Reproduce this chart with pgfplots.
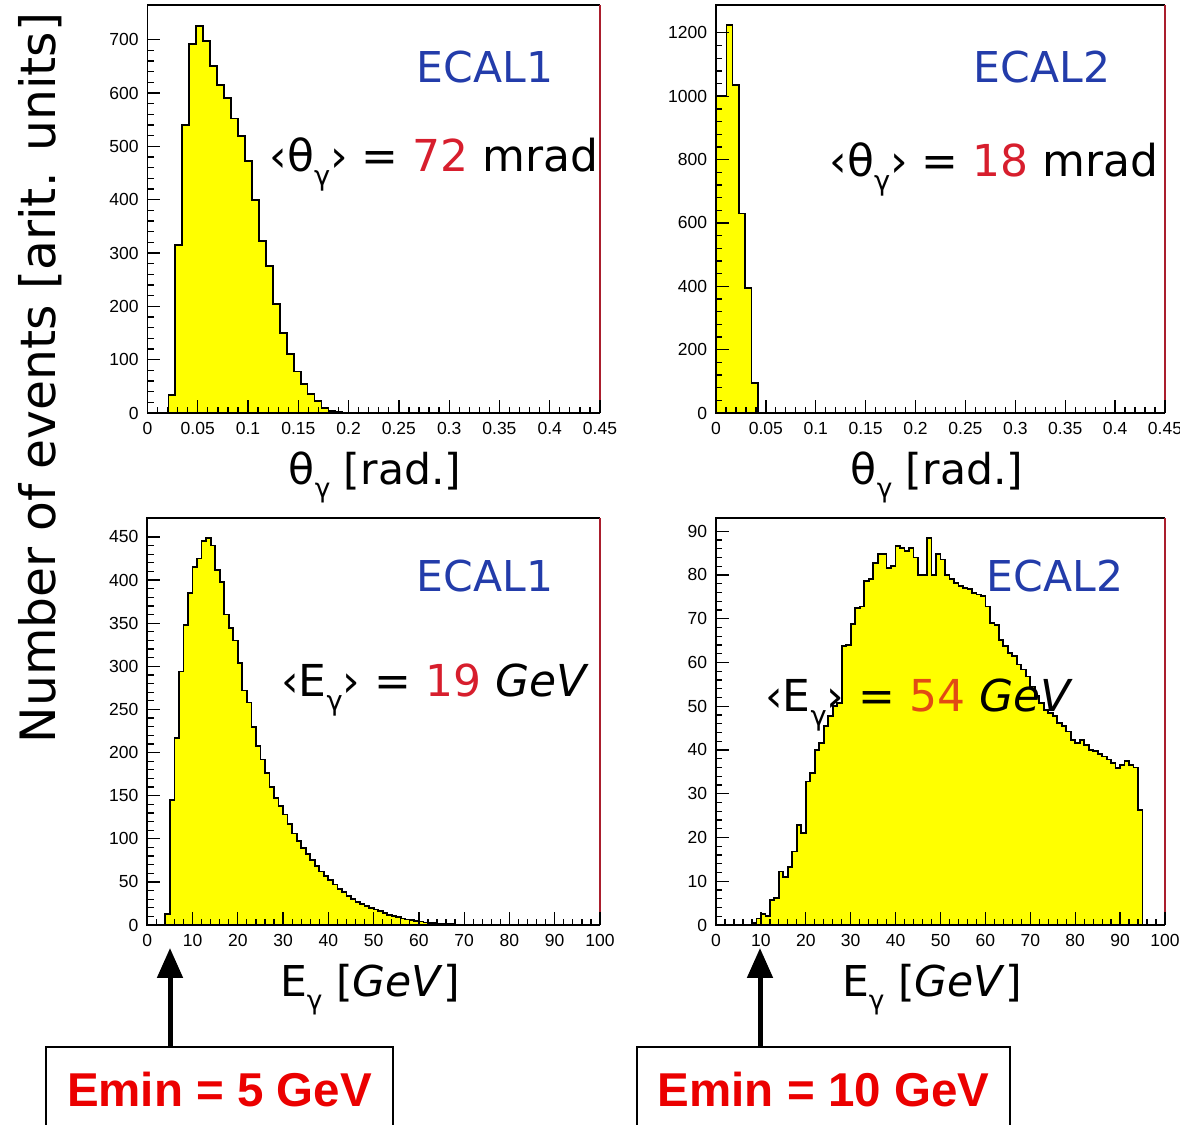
\documentclass[border=0pt]{standalone}
\usepackage{pgfplots}
\pgfplotsset{compat=1.18}
\usepackage{fontspec}
\usepackage{graphicx}
\usetikzlibrary{arrows.meta}
\setmainfont{DejaVu Sans}
\newfontfamily\lib{Liberation Sans}
\definecolor{ecalblue}{RGB}{35,60,170}
\definecolor{meanred}{RGB}{215,30,45}
\definecolor{meanorange}{RGB}{225,75,20}
\definecolor{framered}{RGB}{170,30,45}
\definecolor{hyellow}{RGB}{255,255,0}
\definecolor{eminred}{RGB}{235,0,0}
\newcommand{\sg}{\raisebox{-0.55ex}{\scalebox{0.62}{γ}}}
\newcommand{\bigf}{\fontsize{17}{20}\selectfont}
\newcommand{\meanf}{\fontsize{17.6}{20}\selectfont}
\pgfplotsset{
  rootpanel/.style={
    anchor=south west, scale only axis,
    axis line style={draw=none},
    axis on top,
    tick pos=left,
    tick align=inside,
    major tick length=5pt, minor tick length=2.5pt,
    minor tick num=4,
    tick style={black, line width=0.5pt},
    every tick label/.append style={font=\lib\fontsize{7}{8}\selectfont},
    /pgf/number format/assume math mode=true,
    /pgf/number format/1000 sep={},
    scaled ticks=false,
    xmin=0, ymin=0,
    clip=false,
  },
  hist/.style={const plot, fill=hyellow, draw=black, line width=0.7pt},
}
\newcommand{\rootframe}{%
  \draw[black, line width=0.8pt] (rel axis cs:1,1) -- (rel axis cs:0,1) -- (rel axis cs:0,0) -- (rel axis cs:1,0);
  \draw[framered, line width=1pt] (rel axis cs:1,0) -- (rel axis cs:1,1);}
\begin{document}
\begin{tikzpicture}
\useasboundingbox (0,0) rectangle (472pt,450pt);
% ---- top left
\begin{axis}[rootpanel, at={(59pt,284.8pt)}, width=181pt, height=163.2pt,
  xmax=0.45, ymax=765,
  xtick={0,0.05,0.1,0.15,0.2,0.25,0.3,0.35,0.4,0.45},
  xticklabels={0,0.05,0.1,0.15,0.2,0.25,0.3,0.35,0.4,0.45},
  ytick={0,100,200,300,400,500,600,700}]
\addplot[hist] coordinates {(0.0208,34) (0.0277,315) (0.0346,540) (0.0415,692) (0.0485,726) (0.0554,697) (0.0623,650) (0.0692,615) (0.0762,590) (0.0831,552) (0.0900,520) (0.0969,472) (0.1038,400) (0.1108,323) (0.1177,276) (0.1246,205) (0.1315,150) (0.1385,110) (0.1454,78) (0.1523,55) (0.1592,36) (0.1662,22) (0.1731,10) (0.1800,4) (0.1869,2) (0.1938,0)} \closedcycle;
\rootframe
\end{axis}
% ---- top right
\begin{axis}[rootpanel, at={(286.4pt,284.8pt)}, width=179.6pt, height=163.2pt,
  xmax=0.45, ymax=1288,
  xtick={0,0.05,0.1,0.15,0.2,0.25,0.3,0.35,0.4,0.45},
  xticklabels={0,0.05,0.1,0.15,0.2,0.25,0.3,0.35,0.4,0.45},
  ytick={0,200,400,600,800,1000,1200}]
\addplot[hist] coordinates {(0,1000) (0.0105,1225) (0.0165,1035) (0.023,630) (0.029,395) (0.0356,95) (0.0421,0)} \closedcycle;
\rootframe
\end{axis}
% ---- bottom left
\begin{axis}[rootpanel, at={(58.9pt,80pt)}, width=181.1pt, height=162.8pt,
  xmax=100, ymax=472,
  xtick={0,10,...,100},
  ytick={0,50,...,450}]
\addplot[hist] coordinates {(4,13) (5,145) (6,217) (7,294) (8,348) (9,385) (10,415) (11,425) (12,445) (13,449) (14,440) (15,412) (16,398) (17,360) (18,344) (19,330) (20,304) (21,272) (22,258) (23,230) (24,208) (25,192) (26,176) (27,160) (28,147) (29,138) (30,128) (31,117) (32,106) (33,97) (34,89) (35,82) (36,75) (37,68) (38,62) (39,57) (40,52) (41,47) (42,42) (43,38) (44,34) (45,30) (46,27) (47,24) (48,22) (49,20) (50,18) (51,16) (52,14) (53,12) (54,10) (55,9) (56,7.5) (57,6.5) (58,5.5) (59,4.5) (60,4) (61,3) (62,2.5) (63,2) (64,1.5) (65,1.2) (66,1) (67,0.8) (68,0.5) (69,0.3) (70,0)} \closedcycle;
\rootframe
\end{axis}
% ---- bottom right
\begin{axis}[rootpanel, at={(286.4pt,80pt)}, width=179.6pt, height=162.8pt,
  xmax=100, ymax=93,
  xtick={0,10,...,100},
  ytick={0,10,...,90}]
\addplot[hist] coordinates {(8,0.5) (9,1.5) (10,2.5) (11,2) (12,5.7) (13,6.2) (14,12.2) (15,11) (16,13.3) (17,16.8) (18,22.9) (19,21) (20,32.8) (21,34.7) (22,40) (23,41.6) (24,45.4) (25,47.7) (26,50) (27,50.7) (28,63.7) (29,64) (30,68.7) (31,72.5) (32,72.8) (33,78.6) (34,79) (35,82.8) (36,84.7) (37,84.7) (38,81.6) (39,82) (40,86.6) (41,86.2) (42,85.4) (43,86.2) (44,84) (45,80) (46,80) (47,88.5) (48,80) (49,84.7) (50,83.5) (51,80) (52,79) (53,78.2) (54,77.5) (55,77) (56,76.7) (57,75.9) (58,75.5) (59,75.1) (60,72.8) (61,69) (62,68.6) (63,65.2) (64,63.7) (65,62.2) (66,61.4) (67,59.5) (68,58.4) (69,56.8) (70,54.5) (71,52.3) (72,50.7) (73,49.2) (74,48.4) (75,47.7) (76,46.1) (77,45.4) (78,44.2) (79,42.3) (80,41.6) (81,42.3) (82,41.2) (83,40) (84,39.7) (85,39) (86,38.5) (87,37.8) (88,37) (89,35.9) (90,36.6) (91,37.4) (92,36.6) (93,36) (94,26.3) (95,0)} \closedcycle;
\rootframe
\end{axis}
% ---- annotations
\node[anchor=base, text=ecalblue, font=\bigf] at (194pt,416.8pt) {ECAL1};
\node[anchor=base, font=\meanf] at (173.6pt,381.2pt) {‹θ\sg› = \textcolor{meanred}{72} mrad};
\node[anchor=base, text=ecalblue, font=\bigf] at (416.8pt,416.8pt) {ECAL2};
\node[anchor=base, font=\meanf] at (397.6pt,379.2pt) {‹θ\sg› = \textcolor{meanred}{18} mrad};
\node[anchor=base, text=ecalblue, font=\bigf] at (194pt,213.2pt) {ECAL1};
\node[anchor=base, font=\meanf] at (174pt,171.2pt) {‹E\sg› = \textcolor{meanred}{19} \textit{GeV}};
\node[anchor=base, text=ecalblue, font=\bigf] at (422pt,213.2pt) {ECAL2};
\node[anchor=base, font=\meanf] at (367.6pt,165.2pt) {‹E\sg› = \textcolor{meanorange}{54} \textit{GeV}};
% axis titles
\node[anchor=base, font=\bigf] at (150pt,256pt) {θ\sg{} [rad.]};
\node[anchor=base, font=\bigf] at (374.8pt,256pt) {θ\sg{} [rad.]};
\node[anchor=base, font=\bigf] at (148pt,51.2pt) {E\sg{} [\textit{GeV}]};
\node[anchor=base, font=\bigf] at (372.8pt,51.2pt) {E\sg{} [\textit{GeV}]};
\node[rotate=90, font=\fontsize{19.5}{22}\selectfont] at (16pt,298.8pt) {Number of events [arit. units]};
% arrows and boxes
\draw[line width=2pt, -{Triangle[width=10pt,length=12pt]}] (68pt,31.2pt) -- (68pt,70.8pt);
\draw[line width=2pt, -{Triangle[width=10pt,length=12pt]}] (304pt,31.2pt) -- (304pt,70.8pt);
\draw[line width=0.8pt] (18.4pt,-1pt) -- (18.4pt,31.2pt) -- (157.2pt,31.2pt) -- (157.2pt,-1pt);
\draw[line width=0.8pt] (254.8pt,-1pt) -- (254.8pt,31.2pt) -- (404pt,31.2pt) -- (404pt,-1pt);
\node[text=eminred, font=\lib\bfseries\fontsize{19}{22}\selectfont] at (87.8pt,14pt) {Emin = 5 GeV};
\node[text=eminred, font=\lib\bfseries\fontsize{19}{22}\selectfont] at (329.4pt,14pt) {Emin = 10 GeV};
\end{tikzpicture}
\end{document}
